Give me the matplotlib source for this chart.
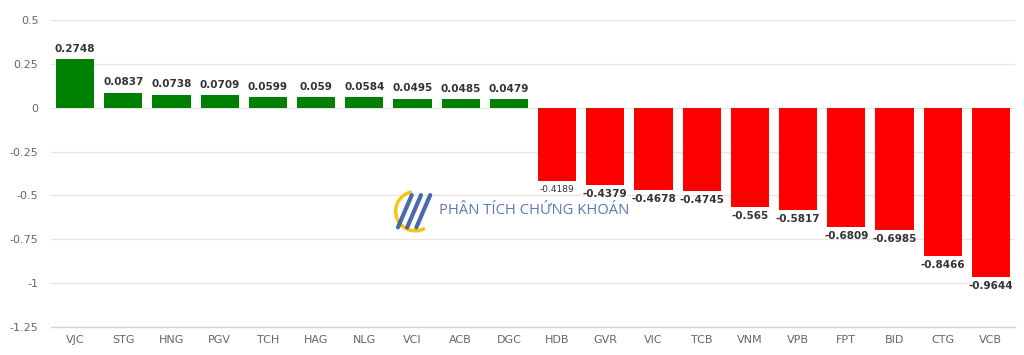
import matplotlib.pyplot as plt
from matplotlib.patches import Arc

# stock tickers and values
tickers = ['VJC', 'STG', 'HNG', 'PGV', 'TCH', 'HAG', 'NLG', 'VCI', 'ACB', 'DGC',
           'HDB', 'GVR', 'VIC', 'TCB', 'VNM', 'VPB', 'FPT', 'BID', 'CTG', 'VCB']
values = [0.2748, 0.0837, 0.0738, 0.0709, 0.0599, 0.059, 0.0584, 0.0495, 0.0485, 0.0479,
          -0.4189, -0.4379, -0.4678, -0.4745, -0.565, -0.5817, -0.6809, -0.6985, -0.8466, -0.9644]
labels = ['0.2748', '0.0837', '0.0738', '0.0709', '0.0599', '0.059', '0.0584', '0.0495', '0.0485', '0.0479',
          '-0.4189', '-0.4379', '-0.4678', '-0.4745', '-0.565', '-0.5817', '-0.6809', '-0.6985', '-0.8466', '-0.9644']
yticks = [0.5, 0.25, 0, -0.25, -0.5, -0.75, -1, -1.25]
ytick_labels = ['0.5', '0.25', '0', '-0.25', '-0.5', '-0.75', '-1', '-1.25']

fig = plt.figure(figsize=(10.24, 3.55), dpi=100)
ax = fig.add_axes([0.0498, 0.0789, 0.9414, 0.8648])

colors = ['#008000' if v >= 0 else '#ff0000' for v in values]
x = range(len(tickers))
ax.bar(x, values, width=0.79, color=colors, zorder=3)

for i, (v, lab) in enumerate(zip(values, labels)):
    fs = 6.5 if lab == '-0.4189' else 7.5
    if v >= 0:
        ax.annotate(lab, (i, v), xytext=(0, 4), textcoords='offset points',
                    ha='center', va='bottom', fontsize=fs, fontweight='bold', color='#333333', zorder=4)
    else:
        ax.annotate(lab, (i, v), xytext=(0, -3), textcoords='offset points',
                    ha='center', va='top', fontsize=fs, fontweight='bold' if fs > 7 else 'normal',
                    color='#333333', zorder=4)

ax.set_xlim(-0.5, len(tickers) - 0.5)
ax.set_ylim(-1.25, 0.5)
ax.set_yticks(yticks)
ax.set_yticklabels(ytick_labels)
ax.set_xticks(list(x))
ax.set_xticklabels(tickers)
ax.tick_params(axis='both', length=0, labelsize=8, colors='#666666')
ax.tick_params(axis='y', pad=9)
ax.tick_params(axis='x', pad=6)
ax.grid(axis='y', color='#e6e6e6', linewidth=0.9, zorder=0)
for s in ['top', 'right', 'left']:
    ax.spines[s].set_visible(False)
ax.spines['bottom'].set_color('#ccd6eb')
ax.spines['bottom'].set_linewidth(1)

# watermark
fig.text(0.429, 0.408, 'PHÂN TÍCH CHỨNG KHOÁN', fontsize=10.6, color='#3d5fae', alpha=0.85,
         va='center', ha='left', family='Open Sans', zorder=5)
logo = fig.add_axes([0.383, 0.34, 0.045, 0.13])
logo.set_xlim(-1, 1)
logo.set_ylim(-1, 1)
logo.axis('off')
logo.add_patch(Arc((0, 0), 1.7, 1.7, theta1=100, theta2=300, color='#f5c518', lw=2.5))
for dx in [-0.45, -0.05, 0.35]:
    logo.plot([dx - 0.3, dx + 0.3], [-0.7, 0.7], color='#2c4fa3', lw=3, alpha=0.85, solid_capstyle='round')

fig.savefig('out.png', dpi=100)
